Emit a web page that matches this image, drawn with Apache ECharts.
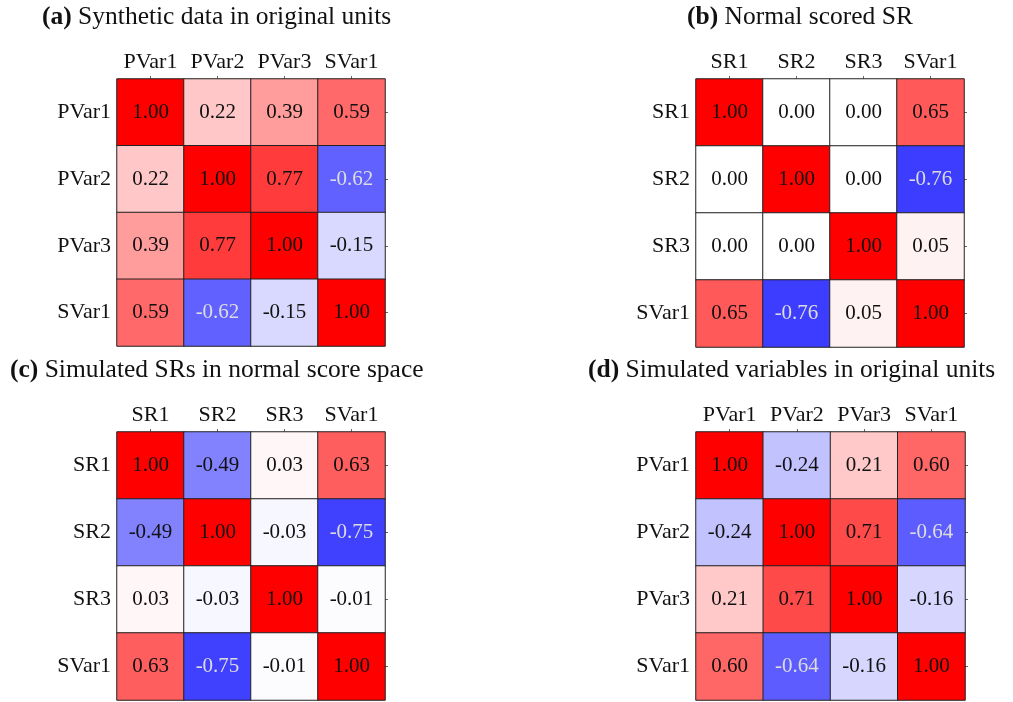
<!DOCTYPE html>
<html>
<head>
<meta charset="utf-8">
<script src="https://cdn.jsdelivr.net/npm/echarts@6/dist/echarts.min.js"></script>
<style>
  html, body { margin: 0; padding: 0; background: #fff; }
  #chart { width: 1013px; height: 702px; }
</style>
</head>
<body>
<div id="chart"></div>
<script>
// Variable names for each correlation matrix
const namesA = ['PVar1', 'PVar2', 'PVar3', 'SVar1'];
const namesB = ['SR1', 'SR2', 'SR3', 'SVar1'];
const namesC = ['SR1', 'SR2', 'SR3', 'SVar1'];
const namesD = ['PVar1', 'PVar2', 'PVar3', 'SVar1'];

// Panel titles (bold tag + caption)
const tags = ['(a)', '(b)', '(c)', '(d)'];
const captions = [
  'Synthetic data in original units',
  'Normal scored SR',
  'Simulated SRs in normal score space',
  'Simulated variables in original units'
];

// Correlation matrices, row by row
const corrA = [
  [1.00, 0.22, 0.39, 0.59],
  [0.22, 1.00, 0.77, -0.62],
  [0.39, 0.77, 1.00, -0.15],
  [0.59, -0.62, -0.15, 1.00]
];
const corrB = [
  [1.00, 0.00, 0.00, 0.65],
  [0.00, 1.00, 0.00, -0.76],
  [0.00, 0.00, 1.00, 0.05],
  [0.65, -0.76, 0.05, 1.00]
];
const corrC = [
  [1.00, -0.49, 0.03, 0.63],
  [-0.49, 1.00, -0.03, -0.75],
  [0.03, -0.03, 1.00, -0.01],
  [0.63, -0.75, -0.01, 1.00]
];
const corrD = [
  [1.00, -0.24, 0.21, 0.60],
  [-0.24, 1.00, 0.71, -0.64],
  [0.21, 0.71, 1.00, -0.16],
  [0.60, -0.64, -0.16, 1.00]
];

const FONT = '"Liberation Serif", "DejaVu Serif", serif';
const panels = [
  { names: namesA, corr: corrA, grid: { left: 117, top: 79, width: 268, height: 267 }, title: { left: 37, top: -1 } },
  { names: namesB, corr: corrB, grid: { left: 696, top: 79, width: 268, height: 268 }, title: { left: 682, top: -1 } },
  { names: namesC, corr: corrC, grid: { left: 117, top: 432, width: 268, height: 268 }, title: { left: 5, top: 352 } },
  { names: namesD, corr: corrD, grid: { left: 696, top: 432, width: 269, height: 268 }, title: { left: 583, top: 352 } }
];

const grids = [], xAxes = [], yAxes = [], series = [], titles = [];

panels.forEach((p, i) => {
  grids.push(Object.assign({ containLabel: false }, p.grid));

  titles.push({
    left: p.title.left,
    top: p.title.top,
    text: '{b|' + tags[i] + '} ' + captions[i],
    textStyle: {
      fontFamily: FONT, fontSize: 25.5, fontWeight: 'normal', color: '#111',
      rich: { b: { fontFamily: FONT, fontSize: 25.5, fontWeight: 'bold', color: '#111' } }
    }
  });

  xAxes.push({
    type: 'category', gridIndex: i, position: 'top', data: p.names,
    axisLine: { show: false },
    axisTick: { show: true, alignWithLabel: true, length: 3, lineStyle: { color: '#666' } },
    axisLabel: { interval: 0, fontFamily: FONT, fontSize: 22, color: '#111', margin: 6 },
    splitLine: { show: false }
  });
  // left axis with row labels
  yAxes.push({
    type: 'category', gridIndex: i, position: 'left', inverse: true, data: p.names,
    axisLine: { show: false },
    axisTick: { show: false },
    axisLabel: { interval: 0, fontFamily: FONT, fontSize: 22, color: '#111', margin: 6 },
    splitLine: { show: false }
  });
  // right axis carrying only the tick marks
  yAxes.push({
    type: 'category', gridIndex: i, position: 'right', inverse: true, data: p.names,
    axisLine: { show: false },
    axisTick: { show: true, alignWithLabel: true, length: 3, lineStyle: { color: '#666' } },
    axisLabel: { show: false },
    splitLine: { show: false }
  });

  const data = [];
  p.corr.forEach((row, r) => {
    row.forEach((v, c) => {
      data.push({
        value: [c, r, v],
        label: { color: v < -0.5 ? '#dcdcdc' : '#111' }
      });
    });
  });

  series.push({
    type: 'heatmap',
    xAxisIndex: i,
    yAxisIndex: i * 2,
    data: data,
    label: {
      show: true,
      fontFamily: FONT,
      fontSize: 21,
      formatter: (d) => d.value[2].toFixed(2)
    },
    itemStyle: { borderColor: '#222', borderWidth: 1 },
    emphasis: { disabled: true }
  });
});

const chart = echarts.init(document.getElementById('chart'), null, { renderer: 'canvas' });
chart.setOption({
  backgroundColor: '#ffffff',
  animation: false,
  title: titles,
  grid: grids,
  xAxis: xAxes,
  yAxis: yAxes,
  // blue-white-red diverging scale over [-1, 1]
  visualMap: {
    type: 'continuous', show: false, min: -1, max: 1, dimension: 2,
    seriesIndex: [0, 1, 2, 3],
    inRange: { color: ['#0000ff', '#ffffff', '#ff0000'] }
  },
  series: series
});
</script>
</body>
</html>
